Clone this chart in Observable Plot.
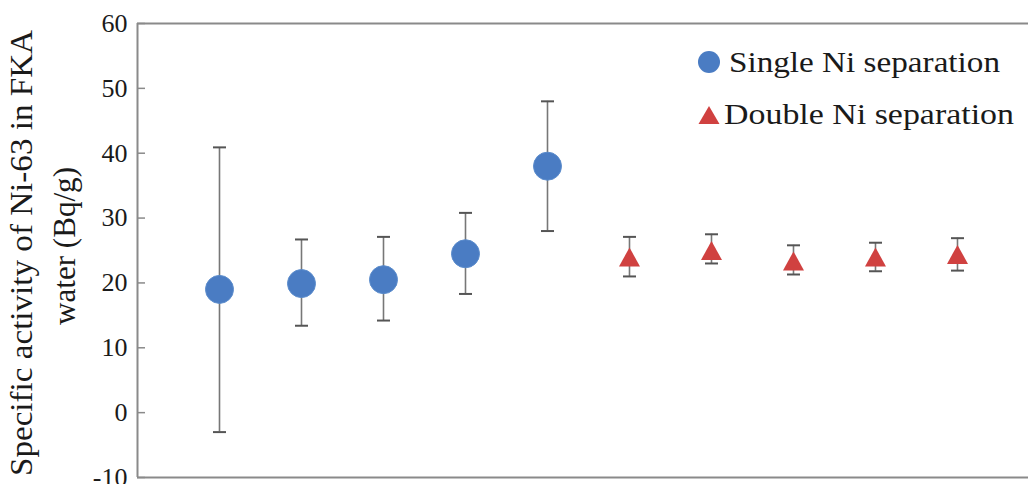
<!DOCTYPE html>
<html>
<head>
<meta charset="utf-8">
<script src="https://cdn.jsdelivr.net/npm/d3@7"></script>
<script src="https://cdn.jsdelivr.net/npm/@observablehq/plot@0.6"></script>
<style>
  html, body { margin: 0; padding: 0; background: #fff; }
  #wrap { position: relative; width: 1028px; height: 484px; overflow: hidden; }
  #overlay { position: absolute; left: 0; top: 0; pointer-events: none; }
  svg text { font-family: "Liberation Serif", "Times New Roman", Tinos, "Nimbus Roman", "Noto Serif", "DejaVu Serif", serif; }
</style>
</head>
<body>
<div id="wrap"></div>
<script>
// ---- data ----
const sample = [1, 2, 3, 4, 5, 6, 7, 8, 9, 10];
const method = ["Single Ni separation", "Single Ni separation", "Single Ni separation", "Single Ni separation", "Single Ni separation",
                "Double Ni separation", "Double Ni separation", "Double Ni separation", "Double Ni separation", "Double Ni separation"];
const activity = [19.0, 19.9, 20.5, 24.5, 38.0, 24.0, 25.0, 23.4, 24.0, 24.4];
const errLow  = [-3.0, 13.4, 14.2, 18.3, 28.0, 21.0, 23.0, 21.3, 21.8, 21.9];
const errHigh = [40.9, 26.7, 27.1, 30.8, 48.0, 27.1, 27.5, 25.8, 26.2, 26.9];
const yTicks = [-10, 0, 10, 20, 30, 40, 50, 60];
const seriesNames = ["Single Ni separation", "Double Ni separation"];
const seriesColors = ["#4a7cc3", "#d04140"];
const yTitleLines = ["Specific activity of Ni-63 in FKA", "water (Bq/g)"];

const data = sample.map((s, i) => ({ s, m: method[i], v: activity[i], lo: errLow[i], hi: errHigh[i] }));
const single = data.filter(d => d.m === seriesNames[0]);
const double = data.filter(d => d.m === seriesNames[1]);

// custom symbols
const capSymbol = { draw(ctx, size) { const r = Math.sqrt(size / Math.PI); ctx.moveTo(-r, 0); ctx.lineTo(r, 0); } };
const triSymbol = { draw(ctx, size) { const r = Math.sqrt(size / Math.PI);
  ctx.moveTo(0, -0.95 * r); ctx.lineTo(1.05 * r, 0.95 * r); ctx.lineTo(-1.05 * r, 0.95 * r); ctx.closePath(); } };

const font = '"Liberation Serif", "Times New Roman", Tinos, "Nimbus Roman", "Noto Serif", "DejaVu Serif", serif';
const axisGray = "#8a8a8a";

const chart = Plot.plot({
  width: 1028,
  height: 484,
  marginLeft: 137,
  marginRight: 0,
  marginTop: 23,
  marginBottom: 7,
  style: { fontFamily: font, fontSize: "26px", color: "#1a1a1a", background: "#fff", overflow: "visible" },
  x: { domain: [0, 10.866], axis: null },
  y: { domain: [-10, 60], ticks: yTicks, label: null },
  marks: [
    Plot.axisY(yTicks, { tickSize: -8, tickPadding: 18, tickFormat: d => String(d), stroke: axisGray, strokeWidth: 1.5, fill: "#1a1a1a", fontSize: 26, label: null }),
    Plot.ruleY([-10, 60], { stroke: axisGray, strokeWidth: 2 }),
    Plot.ruleX([0], { stroke: axisGray, strokeWidth: 2 }),
    Plot.ruleX(data, { x: "s", y1: "lo", y2: "hi", stroke: "#777", strokeWidth: 1.6 }),
    Plot.dot(data, { x: "s", y: "hi", symbol: capSymbol, r: 6.5, stroke: "#555", strokeWidth: 2 }),
    Plot.dot(data, { x: "s", y: "lo", symbol: capSymbol, r: 6.5, stroke: "#555", strokeWidth: 2 }),
    Plot.dot(single, { x: "s", y: "v", r: 14, fill: seriesColors[0], stroke: "#5b8ccc", strokeWidth: 1 }),
    Plot.dot(double, { x: "s", y: "v", symbol: triSymbol, r: 10, fill: seriesColors[1] })
  ]
});
document.getElementById("wrap").appendChild(chart);

// overlay: legend + y axis title
const ov = d3.select("#wrap").append("svg").attr("id", "overlay")
  .attr("width", 1028).attr("height", 484);

// y title (two rotated lines)
const yt = ov.append("g").attr("fill", "#1a1a1a").attr("text-anchor", "middle");
yt.append("text").attr("transform", "translate(32,253) rotate(-90)").attr("font-size", 32)
  .attr("textLength", 446).attr("lengthAdjust", "spacingAndGlyphs").text(yTitleLines[0]);
yt.append("text").attr("transform", "translate(75,246) rotate(-90)").attr("font-size", 32)
  .attr("textLength", 158).attr("lengthAdjust", "spacingAndGlyphs").text(yTitleLines[1]);

// legend
const lg = ov.append("g").attr("fill", "#1a1a1a");
lg.append("circle").attr("cx", 709).attr("cy", 62).attr("r", 11).attr("fill", seriesColors[0]);
lg.append("path").attr("d", "M709,106L719.5,124L698.5,124Z").attr("fill", seriesColors[1]);
lg.append("text").attr("x", 729).attr("y", 72).attr("font-size", 30)
  .attr("textLength", 271).attr("lengthAdjust", "spacingAndGlyphs").text(seriesNames[0]);
lg.append("text").attr("x", 724).attr("y", 124).attr("font-size", 30)
  .attr("textLength", 290).attr("lengthAdjust", "spacingAndGlyphs").text(seriesNames[1]);
</script>
</body>
</html>
